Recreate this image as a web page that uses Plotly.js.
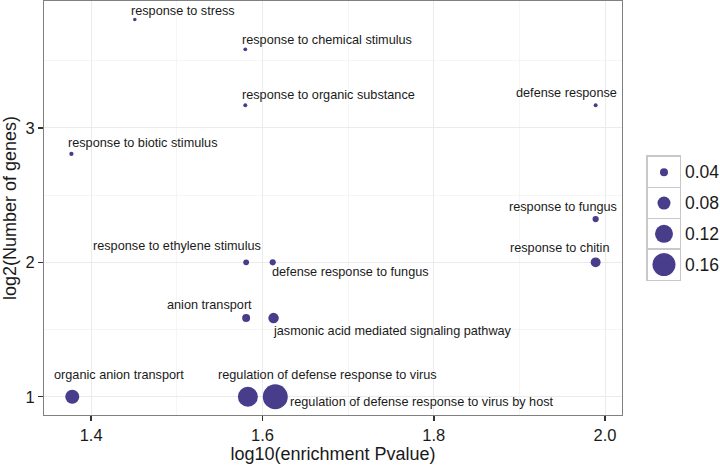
<!DOCTYPE html>
<html>
<head>
<meta charset="utf-8">
<script src="https://cdn.plot.ly/plotly-3.0.1.min.js"></script>
<style>html,body{margin:0;padding:0;background:#fff;}#chart{width:720px;height:466px;}</style>
</head>
<body>
<div id="chart"></div>
<script>
// ---- data ----
var terms = [
  "response to stress",
  "response to chemical stimulus",
  "response to organic substance",
  "defense response",
  "response to biotic stimulus",
  "response to fungus",
  "response to chitin",
  "response to ethylene stimulus",
  "defense response to fungus",
  "anion transport",
  "jasmonic acid mediated signaling pathway",
  "organic anion transport",
  "regulation of defense response to virus",
  "regulation of defense response to virus by host"
];
var log10P = [1.451, 1.580, 1.580, 1.989, 1.377, 1.989, 1.989, 1.581, 1.612, 1.581, 1.613, 1.378, 1.583, 1.615];
var log2Genes = [3.807, 3.585, 3.170, 3.170, 2.807, 2.322, 2.000, 2.000, 2.000, 1.585, 1.585, 1.000, 1.000, 1.000];
var ratio = [0.004, 0.006, 0.008, 0.008, 0.010, 0.026, 0.055, 0.022, 0.025, 0.040, 0.060, 0.088, 0.136, 0.176];
var legendValues = [0.04, 0.08, 0.12, 0.16];
var legendLabels = ["0.04", "0.08", "0.12", "0.16"];
var xTicks = [1.4, 1.6, 1.8, 2.0];
var xTickText = ["1.4", "1.6", "1.8", "2.0"];
var yTicks = [1, 2, 3];
var yTickText = ["1", "2", "3"];

// ---- styling / label placement (pixel offsets) ----
var labelPlace = [
  ["left", -4, 9],
  ["left", -3, 9],
  ["left", -3, 10],
  ["right", 21, 12],
  ["left", -3, 11],
  ["right", 21, 12],
  ["right", 13, 14],
  ["right", 15, 16],
  ["left", -1, -10],
  ["right", 6, 13],
  ["left", -1, -13],
  ["left", -18, 22],
  ["left", -30, 22],
  ["left", 15, -5]
];
function sizeScale(v) { return 3 + 125 * v; }

var ptColor = "#483D8B";
var fontFam = "Liberation Sans, Arial, Helvetica, sans-serif";

var main = {
  type: "scatter", mode: "markers",
  x: log10P, y: log2Genes,
  marker: { color: ptColor, size: ratio.map(sizeScale), line: { width: 0 }, opacity: 1 },
  hoverinfo: "skip", showlegend: false, cliponaxis: false
};
var leg = {
  type: "scatter", mode: "markers",
  x: legendValues.map(function(){ return 0; }),
  y: legendValues.map(function(v, i){ return i; }),
  xaxis: "x2", yaxis: "y2",
  marker: { color: ptColor, size: legendValues.map(sizeScale), line: { width: 0 }, opacity: 1 },
  hoverinfo: "skip", showlegend: false, cliponaxis: false
};

var annotations = terms.map(function(t, i) {
  var p = labelPlace[i];
  return {
    x: log10P[i], y: log2Genes[i], xref: "x", yref: "y",
    text: t, showarrow: false,
    xanchor: p[0], yanchor: "middle", xshift: p[1], yshift: p[2],
    borderpad: 0, borderwidth: 0,
    font: { family: fontFam, size: 12.7, color: "#1a1a1a" }
  };
});

var layout = {
  width: 720, height: 466,
  paper_bgcolor: "#ffffff", plot_bgcolor: "#ffffff",
  margin: { l: 44, r: 2, t: 1, b: 51, pad: 0 },
  font: { family: fontFam, color: "#1a1a1a" },
  showlegend: false,
  xaxis: {
    domain: [0, 0.8576], range: [1.345, 2.0198],
    tickmode: "array", tickvals: xTicks, ticktext: xTickText,
    ticks: "outside", ticklen: 5, tickwidth: 1.5, tickcolor: "#333333",
    tickfont: { size: 16.5, color: "#1a1a1a" },
    showgrid: true, gridcolor: "#ebebeb", gridwidth: 1,
    minor: { tickvals: [1.5, 1.7, 1.9], showgrid: true, gridcolor: "#f5f5f5", gridwidth: 1, ticks: "" },
    showline: true, mirror: true, linecolor: "#808080", linewidth: 1,
    zeroline: false,
    title: { text: "log10(enrichment Pvalue)", font: { size: 18, color: "#1a1a1a" }, standoff: 2 }
  },
  yaxis: {
    domain: [0, 1], range: [0.864, 3.945],
    tickmode: "array", tickvals: yTicks, ticktext: yTickText,
    ticks: "outside", ticklen: 5, tickwidth: 1.5, tickcolor: "#333333",
    tickfont: { size: 16.5, color: "#1a1a1a" },
    showgrid: true, gridcolor: "#ebebeb", gridwidth: 1,
    minor: { tickvals: [1.5, 2.5, 3.5], showgrid: true, gridcolor: "#f5f5f5", gridwidth: 1, ticks: "" },
    showline: true, mirror: true, linecolor: "#808080", linewidth: 1,
    zeroline: false,
    title: { text: "log2(Number of genes)", font: { size: 18, color: "#1a1a1a" }, standoff: 4 }
  },
  xaxis2: {
    domain: [0.8961, 0.9436], range: [-0.5, 0.5], anchor: "y2",
    showgrid: false, zeroline: false, showticklabels: false, ticks: "",
    showline: true, mirror: true, linecolor: "#c8c8c8", linewidth: 1.5, fixedrange: true
  },
  yaxis2: {
    domain: [0.3261, 0.6232], range: [3.5, -0.5], anchor: "x2", side: "right",
    tickmode: "array", tickvals: legendValues.map(function(v, i){ return i; }), ticktext: legendLabels,
    ticks: "", tickfont: { size: 17.5, color: "#1a1a1a" },
    showgrid: false, zeroline: false,
    minor: { tickvals: [0.5, 1.5, 2.5], showgrid: true, gridcolor: "#c8c8c8", gridwidth: 1.5, ticks: "" },
    showline: true, mirror: true, linecolor: "#c8c8c8", linewidth: 1.5, fixedrange: true
  },
  annotations: annotations
};

Plotly.newPlot("chart", [main, leg], layout, { staticPlot: true, displayModeBar: false });
</script>
</body>
</html>
